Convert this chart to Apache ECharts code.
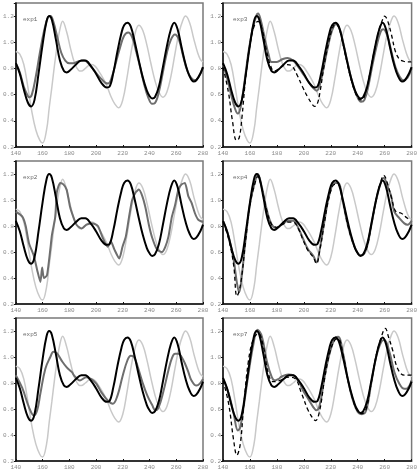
<!DOCTYPE html>
<html>
<head>
<meta charset="utf-8">
<script src="https://cdn.jsdelivr.net/npm/echarts@6/dist/echarts.min.js"></script>
<style>
html, body { margin: 0; padding: 0; background: #fff; }
#chart { width: 420px; height: 472px; }
</style>
</head>
<body>
<div id="chart"></div>
<script>
// panel names, in reading order
var panelNames = ['exp1', 'exp3', 'exp2', 'exp4', 'exp5', 'exp7'];
var xTicks = [140, 160, 180, 200, 220, 240, 260, 280];
var yTicks = [0.2, 0.4, 0.6, 0.8, 1.0, 1.2];

// light grey curve, same in every panel
var greyLine = [[140,0.93],[143,0.91],[146,0.83],[149,0.66],[152,0.47],[155,0.33],[158,0.25],[160,0.23],
    [163,0.33],[165,0.50],[167,0.66],[169,0.83],[171,0.98],[173,1.10],[175,1.16],[178,1.08],[181,0.95],
    [184,0.84],[187,0.785],[189,0.78],[192,0.80],[196,0.83],[199,0.82],[202,0.78],[205,0.73],[208,0.67],
    [211,0.59],[214,0.53],[217,0.50],[220,0.56],[223,0.72],[226,0.91],[229,1.06],[232,1.13],[235,1.09],
    [238,0.98],[241,0.84],[244,0.71],[247,0.62],[250,0.58],[253,0.62],[256,0.74],[259,0.91],[262,1.07],
    [265,1.17],[267,1.20],[270,1.15],[273,1.03],[276,0.92],[278,0.87],[280,0.85]];

// black curve, same in every panel
var blackLine = [[140,0.84],[143,0.76],[146,0.64],[149,0.54],[151.5,0.51],[154,0.56],[157,0.76],[160,0.98],
    [163,1.16],[165,1.20],[167,1.17],[170,1.02],[173,0.86],[176,0.78],[178,0.77],[181,0.79],[185,0.83],
    [189,0.86],[192,0.86],[196,0.82],[200,0.76],[204,0.69],[208,0.655],[210,0.66],[213,0.77],[216,0.93],
    [219,1.07],[221,1.13],[223.5,1.15],[226,1.12],[229,1.00],[232,0.86],[235,0.73],[238,0.63],[240,0.59],
    [242,0.57],[244,0.58],[247,0.66],[250,0.81],[253,0.97],[256,1.10],[258.5,1.15],[261,1.10],[264,0.96],
    [267,0.83],[270,0.74],[273,0.70],[275,0.71],[278,0.76],[280,0.81]];

// dark grey curve per panel
var exp1Line = [[140,0.84],[143,0.77],[146,0.66],[149,0.59],[150,0.58],[152,0.60],[155,0.74],[158,0.92],
    [161,1.08],[164,1.19],[166,1.20],[168,1.16],[171,1.04],[174,0.92],[177,0.86],[180,0.84],[183,0.84],
    [187,0.855],[191,0.86],[195,0.83],[199,0.78],[203,0.73],[207,0.69],[209,0.685],[212,0.74],[215,0.85],
    [218,0.96],[221,1.05],[224,1.075],[227,1.04],[230,0.93],[233,0.81],[236,0.68],[239,0.58],[242,0.53],
    [244,0.535],[247,0.62],[250,0.77],[253,0.92],[256,1.02],[259,1.06],[262,1.02],[265,0.90],[268,0.79],
    [271,0.73],[274,0.71],[277,0.74],[280,0.81]];

var exp3Line = [[140,0.825],[143,0.73],[146,0.60],[149,0.49],[151,0.455],[153,0.50],[156,0.70],[159,0.93],
    [162,1.10],[165,1.21],[166,1.22],[168,1.17],[171,1.03],[174,0.90],[176,0.85],[180,0.85],[184,0.87],
    [188,0.88],[192,0.86],[196,0.81],[200,0.75],[204,0.69],[207,0.65],[209.5,0.63],[212,0.68],[215,0.82],
    [218,0.97],[221,1.09],[224,1.14],[227,1.09],[230,0.96],[233,0.82],[236,0.69],[239,0.60],[242.5,0.545],
    [245,0.56],[248,0.67],[251,0.83],[254,0.97],[257,1.08],[259,1.10],[262,1.05],[265,0.93],[268,0.81],
    [271,0.74],[274,0.71],[277,0.73],[280,0.80]];

var exp2Line = [[140,0.91],[145,0.87],[147.4,0.80],[149.8,0.67],[153.5,0.57],[156,0.46],[158.4,0.37],
    [159.7,0.48],[161,0.40],[163.3,0.42],[165.8,0.62],[167,0.73],[169.5,0.87],[170.7,1.06],[173.2,1.13],
    [175.6,1.12],[178,1.08],[180.5,0.95],[183,0.87],[185.4,0.81],[189.1,0.78],[192.8,0.81],[197.7,0.82],
    [201.4,0.80],[205,0.71],[208.8,0.64],[211.2,0.68],[213.7,0.62],[217.4,0.55],[219.8,0.64],[222.3,0.72],
    [224.7,0.87],[227,1.00],[229.7,1.06],[232,1.08],[234.6,1.03],[237,0.94],[239.5,0.81],[242,0.71],
    [245.6,0.62],[249.3,0.60],[251.8,0.64],[254.2,0.72],[256.7,0.87],[259.1,0.96],[261.6,1.08],[264,1.12],
    [266.5,1.13],[269,1.03],[271.4,0.98],[273.9,0.90],[276.3,0.85],[280,0.83]];

var exp4Line = [[140,0.84],[144.2,0.72],[147.9,0.54],[150.3,0.365],[152,0.29],[154,0.42],[156.5,0.67],
    [160.2,0.98],[164,1.15],[165.8,1.20],[168.8,1.10],[172.5,0.925],[176.2,0.81],[179.9,0.785],[183.6,0.81],
    [188.5,0.84],[192,0.84],[195.9,0.785],[199.5,0.70],[203.2,0.62],[207,0.57],[209.4,0.52],[211.8,0.62],
    [215.5,0.85],[219.2,1.05],[222.9,1.13],[225.4,1.13],[229.1,0.98],[232.8,0.80],[236.5,0.67],[240.1,0.59],
    [242.6,0.575],[246.3,0.62],[250,0.80],[253.7,1.00],[257.4,1.14],[259.3,1.17],[262.3,1.10],[264.8,1.03],
    [267.2,0.91],[270.9,0.86],[274.6,0.82],[277,0.81],[280,0.84]];

var exp5Line = [[140,0.86],[144.9,0.76],[149.8,0.615],[153.5,0.55],[156,0.59],[158.4,0.72],[162.1,0.91],
    [165.8,1.00],[168.2,1.04],[170.7,1.03],[174.4,0.97],[178.1,0.92],[181.8,0.885],[184.2,0.85],[188,0.82],
    [192.8,0.845],[196.5,0.83],[200.2,0.795],[203.9,0.73],[208.8,0.665],[212.5,0.64],[216.1,0.705],
    [219.8,0.85],[223.5,0.975],[226,1.01],[228.4,1.00],[230.9,0.935],[234.6,0.81],[238.3,0.705],[242,0.63],
    [244.4,0.59],[246.9,0.615],[250.5,0.74],[254.2,0.90],[256.7,0.99],[259.1,1.025],[261.6,1.025],[264,1.00],
    [266.5,0.95],[269,0.885],[271.4,0.82],[275.1,0.78],[277.6,0.795],[280,0.83]];

var exp7Line = [[140,0.83],[144.2,0.72],[147.9,0.565],[151.1,0.435],[152.8,0.46],[155.3,0.615],[158.9,0.87],
    [162.6,1.10],[165.6,1.21],[168.8,1.16],[172.5,0.97],[176.2,0.845],[178.6,0.82],[181.1,0.83],[183.6,0.85],
    [188.5,0.865],[192.2,0.86],[195.9,0.82],[199.5,0.74],[203.2,0.68],[207,0.615],[209.4,0.59],[211.8,0.63],
    [215.5,0.85],[219.2,1.03],[222.9,1.14],[225.4,1.155],[229.1,1.03],[232.8,0.82],[236.5,0.665],[240.1,0.575],
    [243.1,0.56],[246.3,0.59],[250,0.795],[253.7,1.00],[257.4,1.115],[259.8,1.13],[263.5,1.04],[267.2,0.885],
    [270.9,0.795],[274.6,0.755],[277,0.76],[280,0.82]];

// dashed black curves (exp3, exp4, exp7)
var exp3Dash = [[140,0.81],[144,0.62],[147,0.40],[150,0.25],[152,0.27],[154,0.42],[157,0.75],[160,0.98],
    [163,1.12],[166,1.16],[169,1.10],[172,0.95],[175,0.83],[178,0.78],[182,0.80],[187,0.83],[191,0.82],
    [195,0.75],[199,0.66],[203,0.58],[206,0.53],[208,0.51],[210,0.53],[212,0.62],[215,0.82],[218,0.98],
    [221,1.10],[223.5,1.14],[226,1.11],[229,0.99],[232,0.85],[235,0.72],[238,0.62],[241,0.565],[243,0.56],
    [246,0.62],[249,0.76],[252,0.92],[255,1.06],[258,1.16],[260,1.20],[262,1.17],[265,1.06],[268,0.93],
    [271,0.87],[274,0.855],[277,0.85],[280,0.85]];

var exp4Dash = [[140,0.83],[144.2,0.70],[147.9,0.50],[150.3,0.26],[152,0.30],[154,0.42],[156.5,0.66],
    [160.2,0.97],[164,1.14],[165.8,1.18],[168.8,1.09],[172.5,0.92],[176.2,0.81],[179.9,0.79],[183.6,0.81],
    [188.5,0.83],[192,0.83],[195.9,0.78],[199.5,0.69],[203.2,0.61],[207,0.56],[209.4,0.51],[211.8,0.61],
    [215.5,0.84],[219.2,1.04],[222.9,1.12],[225.4,1.12],[229.1,0.98],[232.8,0.80],[236.5,0.67],[240.1,0.59],
    [242.6,0.575],[246.3,0.62],[250,0.80],[253.7,1.00],[257.4,1.15],[259.3,1.19],[262.3,1.12],[265,1.02],
    [268.4,0.91],[272,0.90],[277,0.86],[280,0.85]];

var exp7Dash = [[140,0.82],[144.2,0.64],[147.9,0.36],[150.3,0.245],[152.8,0.33],[155.3,0.615],[158.9,0.97],
    [162.6,1.14],[166.3,1.18],[170,1.08],[173.7,0.87],[177.4,0.81],[182.3,0.82],[188.5,0.845],[193.4,0.835],
    [198.3,0.72],[203.2,0.59],[207,0.525],[208.7,0.51],[211.8,0.59],[215.5,0.84],[219.2,1.03],[222.9,1.13],
    [225.4,1.14],[229.1,1.02],[232.8,0.82],[236.5,0.67],[240.1,0.58],[243.1,0.565],[246.3,0.60],[250,0.80],
    [253.7,1.01],[257.4,1.15],[260.5,1.22],[263,1.15],[266,1.05],[269.7,0.91],[274.6,0.86],[280,0.86]];

var greyLines = [exp1Line, exp3Line, exp2Line, exp4Line, exp5Line, exp7Line];
var dashLines = [null, exp3Dash, null, exp4Dash, null, exp7Dash];

var lefts = [13, 223];
var tops = [3, 161, 318];
var heights = [144, 143, 143];

var chart = echarts.init(document.getElementById('chart'));
var grids = [], xAxes = [], yAxes = [], series = [], titles = [];
var lab = { fontFamily: 'Liberation Mono', fontSize: 6, color: '#8a8a8a' };

for (var i = 0; i < 6; i++) {
    var col = i % 2, row = Math.floor(i / 2);
    grids.push({
        left: lefts[col], top: tops[row], width: 190, height: heights[row],
        show: true, borderColor: '#7a7a7a', borderWidth: 1.5, backgroundColor: '#fff'
    });
    xAxes.push({
        type: 'value', gridIndex: i, min: xTicks[0], max: xTicks[xTicks.length - 1], interval: 20,
        axisLine: { onZero: false, lineStyle: { color: '#111', width: 1.5 } },
        axisTick: { inside: true, length: 2, lineStyle: { color: '#111' } },
        axisLabel: Object.assign({ margin: 3 }, lab),
        splitLine: { show: false }
    });
    yAxes.push({
        type: 'value', gridIndex: i, min: yTicks[0], max: 1.3, interval: 0.2,
        axisLine: { show: true, onZero: false, lineStyle: { color: '#111', width: 1.5 } },
        axisTick: { show: true, length: 2, lineStyle: { color: '#111' } },
        axisLabel: Object.assign({ margin: 2, formatter: function (v) {
            return v > 1.25 ? '' : v.toFixed(1);
        } }, lab),
        splitLine: { show: false }
    });
    titles.push({
        text: panelNames[i], left: lefts[col] + 5, top: tops[row] + 8,
        textStyle: { fontFamily: 'Liberation Mono', fontSize: 6, fontWeight: 'normal', color: '#666' }
    });
    series.push({
        type: 'line', xAxisIndex: i, yAxisIndex: i, data: greyLine, smooth: 0.4,
        showSymbol: false, lineStyle: { color: '#c9c9c9', width: 1.5 }
    });
    series.push({
        type: 'line', xAxisIndex: i, yAxisIndex: i, data: greyLines[i], smooth: i == 2 ? 0.2 : 0.4,
        showSymbol: false, lineStyle: { color: '#6e6e6e', width: 2 }
    });
    series.push({
        type: 'line', xAxisIndex: i, yAxisIndex: i, data: blackLine, smooth: 0.4,
        showSymbol: false, lineStyle: { color: '#000', width: 2 }
    });
    if (dashLines[i]) {
        series.push({
            type: 'line', xAxisIndex: i, yAxisIndex: i, data: dashLines[i], smooth: 0.4,
            showSymbol: false, lineStyle: { color: '#000', width: 1.3, type: [4, 3] }
        });
    }
}

chart.setOption({
    animation: false,
    backgroundColor: '#fff',
    title: titles,
    grid: grids,
    xAxis: xAxes,
    yAxis: yAxes,
    series: series
});
</script>
</body>
</html>
